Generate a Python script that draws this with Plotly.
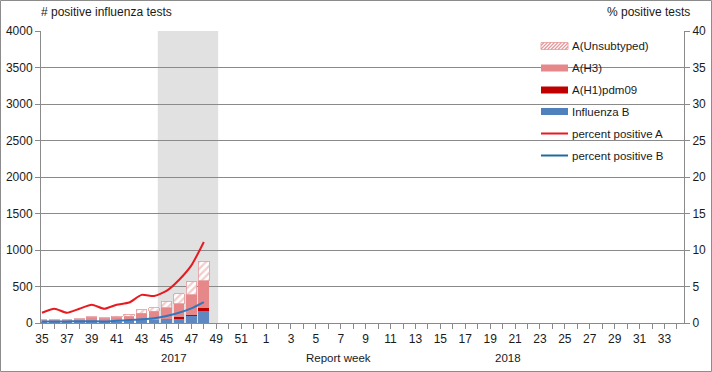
import plotly.graph_objects as go

# ---- data ----
weeks = [str(w) for w in range(35, 53)] + [str(w) for w in range(1, 35)]
influenza_b = [10, 10, 10, 12, 12, 15, 18, 23, 37, 45, 55, 68, 100, 170]
a_h1pdm09 = [0, 0, 0, 0, 0, 0, 0, 0, 0, 2, 5, 10, 14, 30]
a_h3 = [30, 30, 30, 42, 65, 50, 59, 68, 100, 114, 150, 187, 274, 378]
a_unsubtyped = [5, 5, 5, 5, 9, 5, 18, 32, 46, 50, 91, 137, 174, 270]
pct_pos_a = [1.4, 1.95, 1.4, 1.95, 2.5, 1.95, 2.5, 2.8, 3.85, 3.7, 4.4, 5.9, 7.9, 11.1]
pct_pos_b = [0.2, 0.2, 0.2, 0.25, 0.25, 0.2, 0.3, 0.4, 0.5, 0.65, 0.95, 1.4, 2.0, 2.85]
y_left_ticks = list(range(0, 4001, 500))
y_right_ticks = list(range(0, 41, 5))

idx = list(range(len(influenza_b)))
all_idx = list(range(len(weeks)))

C_B = "#6088C0"
C_H1 = "#C00000"
C_H3 = "#E6878A"
C_UN = "#E49A9C"
C_LA = "#E8191F"
C_LB = "#2E78BE"
FONT = "Liberation Sans, Arial, sans-serif"
GRID = "#8A8A8A"

# plot area in pixels
L, R, T, B = 41, 684, 31, 323
def px(x):
    return (x - L) / (R - L)
def py(y):
    return (B - y) / (B - T)

fig = go.Figure()
bw = 0.86
fig.add_trace(go.Bar(x=idx, y=influenza_b, marker=dict(color=C_B, line=dict(width=0)), width=bw, name="Influenza B"))
fig.add_trace(go.Bar(x=idx, y=a_h1pdm09, marker=dict(color=C_H1, line=dict(width=0)), width=bw, name="A(H1)pdm09"))
fig.add_trace(go.Bar(x=idx, y=a_h3, marker=dict(color=C_H3, line=dict(width=0)), width=bw, name="A(H3)"))
fig.add_trace(go.Bar(x=idx, y=a_unsubtyped, width=bw, name="A(Unsubtyped)",
                     marker=dict(color="white", line=dict(color=C_UN, width=0.8),
                                 pattern=dict(shape="/", fgcolor=C_UN, bgcolor="white", size=5, solidity=0.45))))
fig.add_trace(go.Scatter(x=idx, y=pct_pos_a, yaxis="y2", mode="lines", name="percent positive A",
                         line=dict(color=C_LA, width=2, shape="spline", smoothing=0.6)))
fig.add_trace(go.Scatter(x=idx, y=pct_pos_b, yaxis="y2", mode="lines", name="percent positive B",
                         line=dict(color=C_LB, width=2, shape="spline", smoothing=0.6)))

shapes = []
# shaded period
shapes.append(dict(type="rect", xref="x", yref="paper", x0=9.3, x1=14.15, y0=0, y1=1,
                   fillcolor="#E1E1E1", line=dict(width=0), layer="below"))
# outer border of chart
shapes.append(dict(type="rect", xref="paper", yref="paper", x0=px(0.5), x1=px(711.5), y0=py(0.5), y1=py(371.5),
                   line=dict(color="#8C8C8C", width=1), fillcolor="rgba(0,0,0,0)", layer="above"))

annotations = []
def txt(t, x, y, xanchor="left", size=11.5):
    annotations.append(dict(text=t, x=px(x), y=py(y), xref="paper", yref="paper", xanchor=xanchor,
                            yanchor="middle", showarrow=False, font=dict(family=FONT, size=size, color="#1a1a1a")))

txt("# positive influenza tests", 39, 12, size=12)
txt("% positive tests", 692, 12, xanchor="right", size=12)
txt("Report week", 338, 358, xanchor="center")
txt("2017", 174, 358, xanchor="center")
txt("2018", 508, 358, xanchor="center")

# custom legend
leg_items = [("A(Unsubtyped)", "hatch"), ("A(H3)", C_H3), ("A(H1)pdm09", C_H1), ("Influenza B", "#4F81BD"),
             ("percent positive A", "lineA"), ("percent positive B", "lineB")]
ys = [46, 68, 90, 111.5, 133.5, 155.5]
sx0, sx1 = 541, 568
for (name, kind), yc in zip(leg_items, ys):
    if kind == "hatch":
        shapes.append(dict(type="rect", xref="paper", yref="paper", x0=px(sx0), x1=px(sx1), y0=py(yc + 3.5), y1=py(yc - 3.5),
                           fillcolor="white", line=dict(color=C_UN, width=0.8)))
        xs = sx0 - 4
        while xs < sx1:
            a0, a1 = max(xs, sx0), min(xs + 7, sx1)
            shapes.append(dict(type="line", xref="paper", yref="paper",
                               x0=px(a0), x1=px(a1), y0=py(yc + 3.5 - (a0 - xs)), y1=py(yc + 3.5 - (a1 - xs)),
                               line=dict(color=C_UN, width=1.3)))
            xs += 3.5
    elif kind in ("lineA", "lineB"):
        shapes.append(dict(type="line", xref="paper", yref="paper", x0=px(sx0), x1=px(sx1), y0=py(yc), y1=py(yc),
                           line=dict(color=C_LA if kind == "lineA" else "#1F6A9E", width=2)))
    else:
        shapes.append(dict(type="rect", xref="paper", yref="paper", x0=px(sx0), x1=px(sx1), y0=py(yc + 3.5), y1=py(yc - 3.5),
                           fillcolor=kind, line=dict(width=0)))
    txt(name, 570, yc)

fig.update_layout(
    width=712, height=372,
    margin=dict(l=L, r=712 - R, t=T, b=372 - B, autoexpand=False),
    paper_bgcolor="white", plot_bgcolor="white",
    barmode="stack", bargap=0.2, showlegend=False,
    font=dict(family=FONT, size=12, color="#1a1a1a"),
    xaxis=dict(range=[-0.08, 51.57], tickmode="array", tickvals=all_idx[::2], ticktext=weeks[::2],
               showgrid=False, showline=True, linecolor=GRID, linewidth=1, automargin=False,
               ticks="outside", ticklen=5, tickcolor=GRID, zeroline=False,
               minor=dict(tickmode="linear", tick0=0, dtick=1, ticks="outside", ticklen=5, tickcolor=GRID, showgrid=False),
               tickfont=dict(size=12)),
    yaxis=dict(range=[0, 4000], tickvals=y_left_ticks, showgrid=True, gridcolor=GRID, gridwidth=1,
               showline=True, linecolor=GRID, ticks="outside", ticklen=5, tickcolor=GRID, zeroline=False,
               automargin=False, tickfont=dict(size=12)),
    yaxis2=dict(range=[0, 40], tickvals=y_right_ticks, overlaying="y", side="right", showgrid=False,
                showline=True, linecolor=GRID, ticks="outside", ticklen=5, tickcolor=GRID, zeroline=False,
                automargin=False, tickfont=dict(size=12)),
    shapes=shapes, annotations=annotations,
)

fig.write_html("out.html", config={"displayModeBar": False},
               post_script="document.body.style.margin='0';document.body.style.padding='0';document.body.style.overflow='hidden';")
